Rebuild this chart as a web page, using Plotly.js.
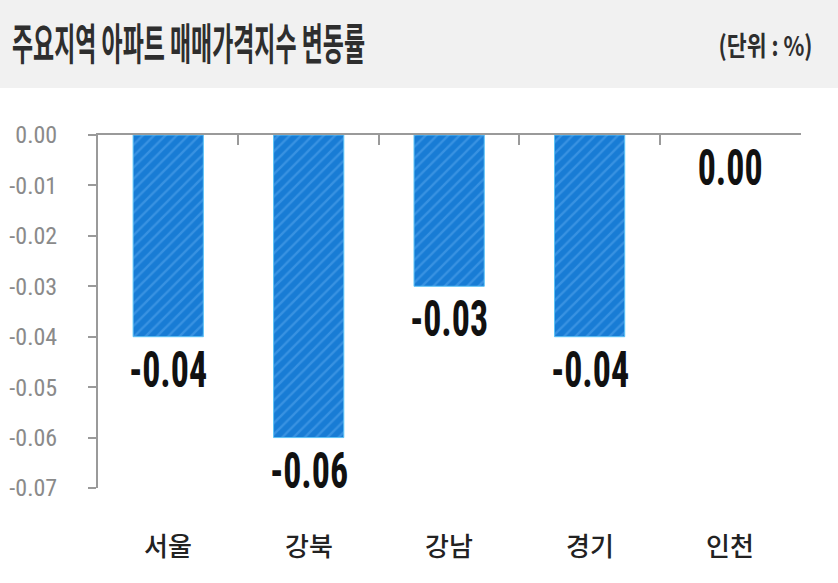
<!DOCTYPE html>
<html>
<head>
<meta charset="utf-8">
<script src="https://cdn.plot.ly/plotly-3.0.1.min.js"></script>
<style>
  html, body { margin: 0; padding: 0; background: #fff; }
  #chart { width: 838px; height: 583px; }
</style>
</head>
<body>
<div id="chart"></div>
<script>
// data
const regions = ['서울', '강북', '강남', '경기', '인천'];
const changes = [-0.04, -0.06, -0.03, -0.04, 0.00];
const yTicks = [0, -0.01, -0.02, -0.03, -0.04, -0.05, -0.06, -0.07];

const TITLE = '주요지역 아파트 매매가격지수 변동률';
const UNIT = '(단위 : %)';

const NARROW = "'Liberation Sans Narrow', 'Roboto Condensed', 'DejaVu Sans Condensed', sans-serif";
const KR = "'Noto Sans CJK KR', 'Noto Sans', sans-serif";
const AXIS_GREY = '#9a9a9a';

const barTrace = {
  x: regions,
  y: changes,
  type: 'bar',
  width: 0.5,
  marker: {
    color: '#1a7fd8',
    line: { color: '#5cc3f7', width: changes.map(v => (v === 0 ? 0 : 1)) },
    pattern: { shape: '/', fgcolor: '#3892e2', bgcolor: '#187cd5', size: 8, solidity: 0.3 },
  },
  hoverinfo: 'skip',
};

// value labels just below each bar end
const valueLabels = regions.map((r, i) => ({
  x: r,
  y: changes[i],
  text: changes[i].toFixed(2),
  showarrow: false,
  yanchor: 'top',
  yshift: -2,
  font: { family: NARROW, size: 50, color: '#111', weight: 700 },
}));

// category names under the plot (the x axis itself sits on top at 0.00)
const categoryLabels = regions.map(r => ({
  x: r,
  xref: 'x',
  yref: 'paper',
  y: 0,
  yanchor: 'top',
  yshift: -36,
  text: r,
  showarrow: false,
  font: { family: KR, size: 26, color: '#222', weight: 500 },
}));

const unitLabel = {
  text: UNIT,
  xref: 'paper', yref: 'paper',
  x: 1 + (765 - 801) / 703, xanchor: 'center',
  y: (488 - 45) / 353, yanchor: 'middle',
  showarrow: false,
  font: { family: KR, size: 27, color: '#2e2e2e', weight: 700 },
};

const layout = {
  width: 838,
  height: 583,
  paper_bgcolor: '#ffffff',
  plot_bgcolor: '#ffffff',
  margin: { t: 135, r: 37, b: 95, l: 98 },
  showlegend: false,
  title: {
    text: TITLE,
    xref: 'container', yref: 'container',
    x: 12 / 838, xanchor: 'left',
    y: 1 - 45 / 583, yanchor: 'middle',
    font: { family: KR, size: 43, color: '#2e2e2e', weight: 700 },
  },
  xaxis: {
    type: 'category',
    side: 'top',
    range: [-0.5, 4.505],
    showticklabels: false,
    tickson: 'boundaries',
    ticks: 'inside',
    ticklen: 10,
    tickwidth: 2,
    tickcolor: AXIS_GREY,
    showline: true,
    linecolor: AXIS_GREY,
    linewidth: 2,
    showgrid: true,
    gridcolor: 'rgba(0,0,0,0)',
    zeroline: false,
  },
  yaxis: {
    range: [-0.07, 0],
    tickvals: yTicks,
    ticktext: yTicks.map(v => v.toFixed(2)),
    showline: true,
    linecolor: AXIS_GREY,
    linewidth: 2,
    ticks: 'outside',
    ticklen: 8,
    tickwidth: 2,
    tickcolor: AXIS_GREY,
    showgrid: false,
    zeroline: false,
    tickfont: { family: NARROW, size: 24, color: '#8a8a8a', weight: 400 },
    ticklabelstandoff: 26,
  },
  shapes: [
    {
      type: 'rect', layer: 'below',
      xref: 'paper', yref: 'paper',
      x0: -0.2, x1: 1.1,
      y0: 1.1331, y1: 1.5,
      fillcolor: '#f1f1f1',
      line: { width: 0 },
    },
  ],
  annotations: valueLabels.concat(categoryLabels, [unitLabel]),
};

// squeeze text horizontally (the source uses condensed faces)
function squeeze(el, width) {
  if (!el) return;
  el.setAttribute('textLength', width);
  el.setAttribute('lengthAdjust', 'spacingAndGlyphs');
}

Plotly.newPlot('chart', [barTrace], layout, { staticPlot: true }).then(() => {
  squeeze(document.querySelector('.gtitle'), 353);
  const ann = Array.from(document.querySelectorAll('.annotation-text'));
  squeeze(ann[ann.length - 1], 94);
  // value labels: same horizontal squeeze factor for all
  ann.slice(0, valueLabels.length).forEach(el => squeeze(el, el.getComputedTextLength() * 0.72));
});
</script>
</body>
</html>
